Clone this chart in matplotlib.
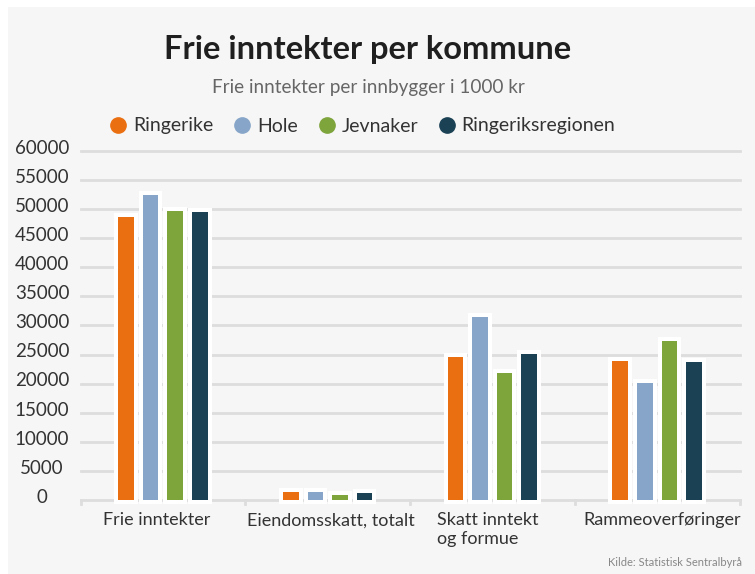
import numpy as np
import matplotlib.pyplot as plt
from matplotlib.lines import Line2D
from matplotlib.patches import Rectangle

# ---------------------- Data ----------------------
categories = ["Frie inntekter", "Eiendomsskatt, totalt", "Skatt inntekt\nog formue", "Rammeoverføringer"]
series_names = ["Ringerike", "Hole", "Jevnaker", "Ringeriksregionen"]
ringerike = [48600, 1300, 24500, 23800]
hole = [52400, 1450, 31500, 20100]
jevnaker = [49700, 850, 21800, 27400]
regionen = [49400, 1250, 25100, 23700]
yticks = [0, 5000, 10000, 15000, 20000, 25000, 30000, 35000, 40000, 45000, 50000, 55000, 60000]

colors = ["#EA6F10", "#87A5C8", "#7EA43C", "#1B4155"]
bg = "#f6f6f6"
grid_c = "#dddddd"
text_c = "#333333"

plt.rcParams['font.family'] = ['Lato', 'DejaVu Sans']

# ---------------------- Figure ----------------------
W, H = 755, 574
fig = plt.figure(figsize=(W / 100, H / 100), dpi=100, facecolor="white")
fig.patches.append(Rectangle((8 / W, 0), 1 - 8 / W, 1 - 7 / H, transform=fig.transFigure,
                             facecolor=bg, edgecolor="none", zorder=-10))

ax = fig.add_axes([80.5 / W, 1 - 500 / H, 659 / W, (500 - 150.8) / H])
ax.set_facecolor("none")
for s in ax.spines.values():
    s.set_visible(False)

x = np.arange(len(categories))
pitch = 0.149
bw = 0.095
all_series = [ringerike, hole, jevnaker, regionen]
for i, vals in enumerate(all_series):
    pos = x + (i - 1.5) * pitch
    # white halo behind each bar
    ax.bar(pos, vals, width=bw, color="white", edgecolor="white", linewidth=5.8,
           zorder=2, clip_on=False)
    ax.bar(pos, vals, width=bw, color=colors[i], linewidth=0, zorder=3, clip_on=False)

ax.set_xlim(-0.5, len(categories) - 0.5)
ax.set_ylim(0, 60000)

# gridlines
for t in yticks:
    ax.axhline(t, color=grid_c, lw=2, zorder=1, clip_on=False)
# small ticks at category boundaries
for b in np.arange(-0.5, len(categories), 1.0):
    ax.plot([b, b], [0, -700], color=grid_c, lw=2, zorder=1, clip_on=False)

ax.set_xticks([])
ax.set_yticks([])

# y labels, centered
ytrans = ax.get_yaxis_transform()
for t in yticks:
    ax.text(-38.5 / 659, t + 450, f"{t}", transform=ytrans, ha="center", va="center",
            fontsize=13.5, color=text_c)

# x labels (slightly offset from group centres, as in the original)
label_shift = [-0.035, 0.02, -0.03, 0.03]
xtrans = ax.get_xaxis_transform()
for xi, lab, dx in zip(x, categories, label_shift):
    ax.text(xi + dx, -0.035, lab, transform=xtrans,
            ha="center", va="top", fontsize=13, color=text_c, multialignment="left",
            linespacing=1.25)

# titles
fig.text(368 / W, 1 - 50 / H, "Frie inntekter per kommune", ha="center", va="center",
         fontsize=23.5, fontweight="bold", color="#1f1f1f")
fig.text(368 / W, 1 - 88 / H, "Frie inntekter per innbygger i 1000 kr", ha="center",
         va="center", fontsize=13.6, color="#666666")

# legend
handles = [Line2D([], [], marker="o", ls="none", markersize=11, color=c, markeredgecolor=c)
           for c in colors]
fig.legend(handles, series_names, loc="center", bbox_to_anchor=(362 / W, 1 - 126 / H),
           ncol=4, frameon=False, fontsize=14, handletextpad=0.25, columnspacing=1.0,
           handlelength=1.0, labelcolor=text_c)

fig.text(742 / W, 1 - 563 / H, "Kilde: Statistisk Sentralbyrå", ha="right", va="center",
         fontsize=8, color="#888888")

plt.savefig("out.png", dpi=100, facecolor=fig.get_facecolor())
